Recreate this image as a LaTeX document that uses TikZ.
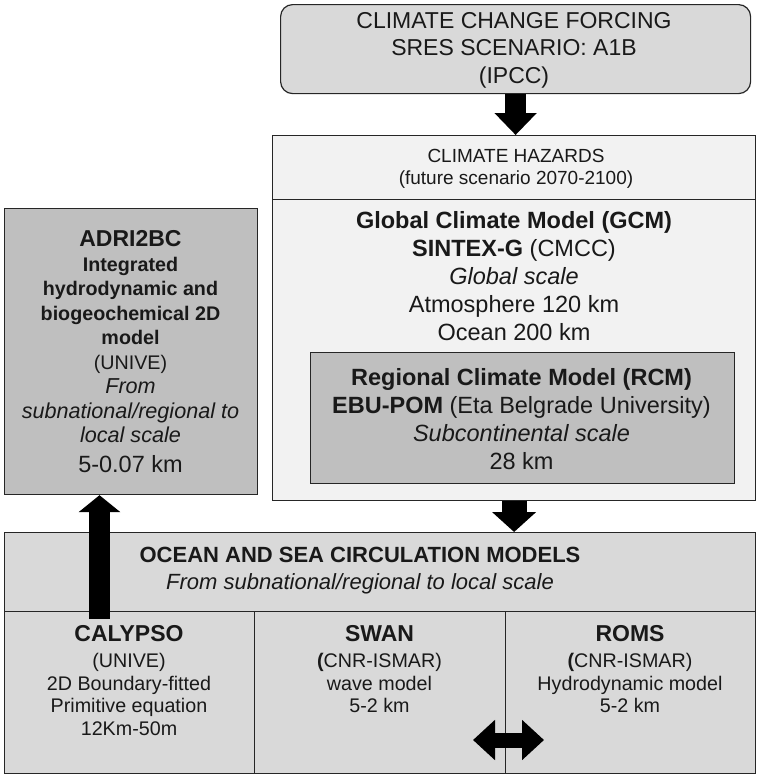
\documentclass[tikz,border=0pt]{standalone}
\usepackage{fontspec}
\setmainfont{Liberation Sans}
\usetikzlibrary{arrows.meta}
\definecolor{gA}{HTML}{D9D9D9}
\definecolor{gB}{HTML}{F2F2F2}
\definecolor{gC}{HTML}{BFBFBF}
\newcommand\setfs[2]{\fontsize{#1}{#2}\selectfont}
\begin{document}
\begin{tikzpicture}[x=1pt,y=-1pt,
  box/.style={draw=black!85, line width=1.2pt, inner sep=0pt, anchor=north west},
  txt/.style={inner sep=0pt, align=center, text=black!90, anchor=north},
  blockarrow/.style={draw=black, line width=#1}]
\useasboundingbox (0,0) rectangle (756,774);
% boxes
\node[box, fill=gA, rounded corners=12pt, minimum width=470pt, minimum height=89pt] (force) at (280,4) {};
\node[box, fill=gB, minimum width=483pt, minimum height=365pt] (haz) at (272,135) {};
\node[box, fill=gB, minimum width=483pt, minimum height=64pt] (hazhead) at (272,135) {};
\node[box, fill=gC, minimum width=424pt, minimum height=131pt] (rcm) at (310,352) {};
\node[box, fill=gC, minimum width=253pt, minimum height=286pt] (adri) at (4,208) {};
\node[box, fill=gA, minimum width=751pt, minimum height=79pt] (ocean) at (4,532) {};
\node[box, fill=gA, minimum width=250pt, minimum height=162pt] (c1) at (4,611) {};
\node[box, fill=gA, minimum width=251pt, minimum height=162pt] (c2) at (254,611) {};
\node[box, fill=gA, minimum width=250pt, minimum height=162pt] (c3) at (505,611) {};
% texts
\node[txt, font=\setfs{23}{27.5}] (tforce) at (514,11.8) {CLIMATE CHANGE FORCING\\SRES SCENARIO: A1B\\(IPCC)};
\node[txt, font=\setfs{19}{22}] (thaz) at (516,149.4) {CLIMATE HAZARDS\\(future scenario 2070-2100)};
\node[txt, font=\setfs{23.5}{28}] (tgcm) at (514,211) {\textbf{Global Climate Model (GCM)}\\\textbf{SINTEX-G} (CMCC)\\\textit{Global scale}\\Atmosphere 120 km\\Ocean 200 km};
\node[txt, font=\setfs{23.5}{28}] (trcm) at (521.5,368) {\textbf{Regional Climate Model (RCM)}\\\textbf{EBU-POM} (Eta Belgrade University)\\\textit{Subcontinental scale}\\28 km};
\node[txt, font=\setfs{19.7}{24.5}] (tadri) at (130.5,230.5) {{\setfs{23}{24.5}\bfseries ADRI2BC}\\\textbf{Integrated}\\\textbf{hydrodynamic and}\\\textbf{biogeochemical 2D}\\\textbf{model}\\(UNIVE)\\{\setfs{21.6}{24.5}\itshape From}\\{\setfs{21.6}{24.5}\itshape subnational/regional to}\\{\setfs{21.6}{24.5}\itshape local scale}\\[5pt]{\setfs{23.5}{24.5}5-0.07 km}};
\node[txt, font=\setfs{22}{27}] (tocean) at (360,547) {\textbf{OCEAN AND SEA CIRCULATION MODELS}\\\textit{From subnational/regional to local scale}};
\node[txt, font=\setfs{19.7}{22.5}] (tc1) at (129,625.5) {{\setfs{23}{22.5}\bfseries CALYPSO}\\[3.5pt](UNIVE)\\2D Boundary-fitted\\Primitive equation\\12Km-50m};
\node[txt, font=\setfs{19.7}{22.5}] (tc2) at (379.5,625.5) {{\setfs{23}{22.5}\bfseries SWAN}\\[3.5pt]\textbf{(}CNR-ISMAR)\\wave model\\5-2 km};
\node[txt, font=\setfs{19.7}{22.5}] (tc3) at (630,625.5) {{\setfs{23}{22.5}\bfseries ROMS}\\[3.5pt]\textbf{(}CNR-ISMAR)\\Hydrodynamic model\\5-2 km};
% arrows
\draw[blockarrow=21pt, -{Triangle[width=41pt,length=22pt]}] (force.south) -- (force.south |- hazhead.north);
\draw[blockarrow=25pt, -{Triangle[width=43pt,length=20pt]}] (haz.south) -- (haz.south |- ocean.north);
\coordinate (upstart) at (99.5,619);
\draw[blockarrow=21pt, -{Triangle[width=41pt,length=17pt]}] (upstart) -- (upstart |- adri.south);
\coordinate (dl) at (473,740);
\coordinate (dr) at (544,740);
\draw[blockarrow=15pt, {Triangle[width=39pt,length=22pt]}-{Triangle[width=39pt,length=22pt]}] (dl) -- (dr);
\end{tikzpicture}
\end{document}
